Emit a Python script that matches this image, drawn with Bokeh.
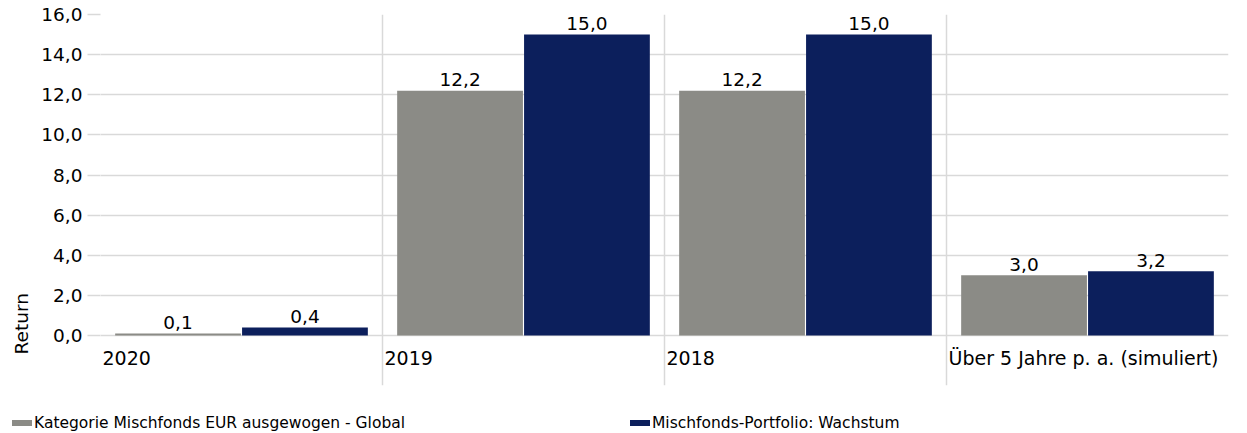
import numpy as np
from bokeh.plotting import figure
from bokeh.layouts import column
from bokeh.models import (ColumnDataSource, FixedTicker, Grid, Title, Range1d, Div)
from bokeh.core.properties import value
from bokeh.embed import file_html
from bokeh.resources import INLINE

# ---- data ----
categories = ["2020", "2019", "2018", "Über 5 Jahre p. a. (simuliert)"]
series_names = ["Kategorie Mischfonds EUR ausgewogen - Global", "Mischfonds-Portfolio: Wachstum"]
kategorie = [0.1, 12.2, 12.2, 3.0]
portfolio = [0.4, 15.0, 15.0, 3.2]
yticks = [0, 2, 4, 6, 8, 10, 12, 14, 16]
ytick_labels = ["0,0", "2,0", "4,0", "6,0", "8,0", "10,0", "12,0", "14,0", "16,0"]
axis_title = "Return"

GRAY = "#8b8b86"
BLUE = "#0c1f5c"
GRID = "#d9d9d9"
FONT = "DejaVu Sans"
FS = "18.5px"
W = 1240

def fmt(v):
    return f"{v:.1f}".replace(".", ",")

n = len(categories)
idx = np.arange(n)
bw = 0.446
off = 0.225

p = figure(width=W, height=400, output_backend="svg", toolbar_location=None,
           x_range=Range1d(0, n), y_range=Range1d(-2.49, 16),
           x_axis_location=None, min_border_left=100, min_border_right=12,
           min_border_top=14, min_border_bottom=15)
p.outline_line_color = None
p.background_fill_color = "white"

# grids
p.ygrid.ticker = FixedTicker(ticks=yticks)
p.ygrid.grid_line_color = GRID
p.ygrid.grid_line_width = 1.5
p.xgrid.visible = False
xg = Grid(dimension=0, ticker=FixedTicker(ticks=list(range(n + 1))),
          grid_line_color=GRID, grid_line_width=1.5)
p.add_layout(xg)

# y axis
ax = p.yaxis[0]
ax.ticker = FixedTicker(ticks=yticks)
ax.major_label_overrides = dict(zip(yticks, ytick_labels))
ax.axis_line_color = None
ax.major_tick_out = 13
ax.major_tick_in = 0
ax.major_tick_line_color = GRID
ax.major_tick_line_width = 1.5
ax.minor_tick_line_color = None
ax.major_label_standoff = 5
ax.major_label_text_font = FONT
ax.major_label_text_font_size = FS
ax.major_label_text_color = "black"

src = ColumnDataSource(dict(
    xg=idx + 0.5 - off, xb=idx + 0.5 + off,
    g=kategorie, b=portfolio,
    gl=[fmt(v) for v in kategorie], bl=[fmt(v) for v in portfolio],
))
r1 = p.vbar(x="xg", top="g", bottom=0, width=bw, source=src, fill_color=GRAY, line_color=None)
r2 = p.vbar(x="xb", top="b", bottom=0, width=bw, source=src, fill_color=BLUE, line_color=None)

# data labels
for xcol, ycol, lcol in (("xg", "g", "gl"), ("xb", "b", "bl")):
    p.text(x=xcol, y=ycol, text=lcol, source=src, text_align="center",
           text_baseline="middle", y_offset=-11, text_font=value(FONT),
           text_font_size=FS, text_color="black")

# category labels (left aligned at category start, below zero line)
csrc = ColumnDataSource(dict(x=idx, y=[0] * n, t=categories))
p.text(x="x", y="y", text="t", source=csrc, text_align="left", text_baseline="middle",
       x_offset=2, y_offset=22, text_font=value(FONT), text_font_size="19px", text_color="black")

# axis title (placed low on the left side, as in the original)
p.add_layout(Title(text=axis_title, align="left", offset=31, standoff=13, text_font=FONT,
                   text_font_size=FS, text_font_style="normal", text_color="black"), "left")

# ---- legend strip (HTML) ----
legend_colors = [GRAY, BLUE]
legend_left = [12, 630]
items = []
for name, col, lx in zip(series_names, legend_colors, legend_left):
    items.append(
        f'<div style="position:absolute;left:{lx}px;top:14px;white-space:nowrap;'
        f'line-height:18px;">'
        f'<span style="display:inline-block;width:20px;height:6px;background:{col};'
        f'vertical-align:middle;margin-right:2px;position:relative;top:-1px"></span>'
        f'{name}</div>'
    )
html = (f'<div style="position:relative;width:{W}px;height:30px;font-family:\'{FONT}\';'
        f'font-size:15.5px;color:black;">' + "".join(items) + '</div>')
leg = Div(text=html, width=W, height=30, margin=0)

open("out.html", "w").write(file_html(column(p, leg, spacing=0), INLINE))
